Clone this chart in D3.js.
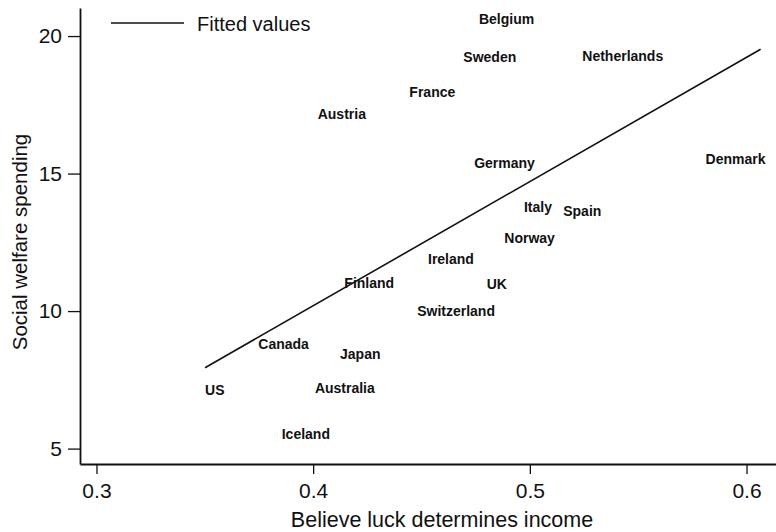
<!DOCTYPE html>
<html>
<head>
<meta charset="utf-8">
<script src="https://cdn.jsdelivr.net/npm/d3@7"></script>
<style>
  body { margin: 0; background: #fff; }
  text { font-family: "Liberation Sans", Arial, sans-serif; fill: #111; }
</style>
</head>
<body>
<script>
//data
const countries = ["Belgium", "Sweden", "Netherlands", "France", "Austria", "Germany", "Denmark",
                   "Italy", "Spain", "Norway", "Ireland", "Finland", "UK", "Switzerland",
                   "Canada", "Japan", "US", "Australia", "Iceland"]
const luck = [0.4765, 0.4693, 0.5242, 0.4444, 0.4021, 0.4743, 0.5811,
              0.4973, 0.5154, 0.4882, 0.4530, 0.4144, 0.4801, 0.4480,
              0.3747, 0.4124, 0.3501, 0.4008, 0.3855]
const welfare = [20.62, 19.23, 19.29, 17.98, 17.17, 15.40, 15.54,
                 13.77, 13.64, 12.65, 11.89, 11.03, 10.99, 10.01,
                 8.80, 8.44, 7.13, 7.19, 5.53]
const fitX = [0.3501, 0.6065]
const fitY = [7.94, 19.52]
const xTicks = [0.3, 0.4, 0.5, 0.6]
const yTicks = [5, 10, 15, 20]

const w = 776
const h = 532

const svg = d3.select("body")
              .append("svg")
              .attr("width", w)
              .attr("height", h)

const x = d3.scaleLinear()
            .domain([0.2924, 0.6136])
            .range([80, 776])
const y = d3.scaleLinear()
            .domain([4.44, 21.02])
            .range([464, 8])

//axes
const xAxis = d3.axisBottom(x)
                .tickValues(xTicks)
                .tickFormat(d3.format(".1f"))
                .tickSizeInner(10)
                .tickSizeOuter(0)
                .tickPadding(9)
const yAxis = d3.axisLeft(y)
                .tickValues(yTicks)
                .tickSizeInner(12)
                .tickSizeOuter(0)
                .tickPadding(6)

const gx = svg.append("g")
              .attr("transform", "translate(0, 464)")
              .call(xAxis)
const gy = svg.append("g")
              .attr("transform", "translate(80, 0)")
              .call(yAxis)

svg.selectAll(".domain").attr("stroke", "#111").attr("stroke-width", 1.8)
svg.selectAll(".tick line").attr("stroke", "#111").attr("stroke-width", 1.3)
svg.selectAll(".tick text")
   .attr("font-size", 21)
   .attr("font-family", "Liberation Sans, Arial, sans-serif")
   .attr("fill", "#111")

//axis titles
svg.append("text")
   .attr("x", 442)
   .attr("y", 527)
   .attr("text-anchor", "middle")
   .attr("font-size", 21.5)
   .text("Believe luck determines income")
svg.append("text")
   .attr("transform", "translate(27, 242) rotate(-90)")
   .attr("text-anchor", "middle")
   .attr("font-size", 20.5)
   .text("Social welfare spending")

//fitted line
const line = d3.line()
               .x((d, i) => x(fitX[i]))
               .y((d) => y(d))
svg.append("path")
   .datum(fitY)
   .attr("d", line)
   .attr("fill", "none")
   .attr("stroke", "#111")
   .attr("stroke-width", 1.6)

//country labels
svg.selectAll(".country")
   .data(countries)
   .enter()
   .append("text")
   .attr("class", "country")
   .attr("x", (d, i) => x(luck[i]))
   .attr("y", (d, i) => y(welfare[i]))
   .attr("dy", "0.36em")
   .attr("font-size", 14)
   .attr("font-weight", "bold")
   .text((d) => d)

//legend
svg.append("line")
   .attr("x1", 111)
   .attr("x2", 184)
   .attr("y1", 23)
   .attr("y2", 23)
   .attr("stroke", "#111")
   .attr("stroke-width", 1.6)
svg.append("text")
   .attr("x", 197)
   .attr("y", 24)
   .attr("dy", "0.36em")
   .attr("font-size", 20)
   .text("Fitted values")
</script>
</body>
</html>
